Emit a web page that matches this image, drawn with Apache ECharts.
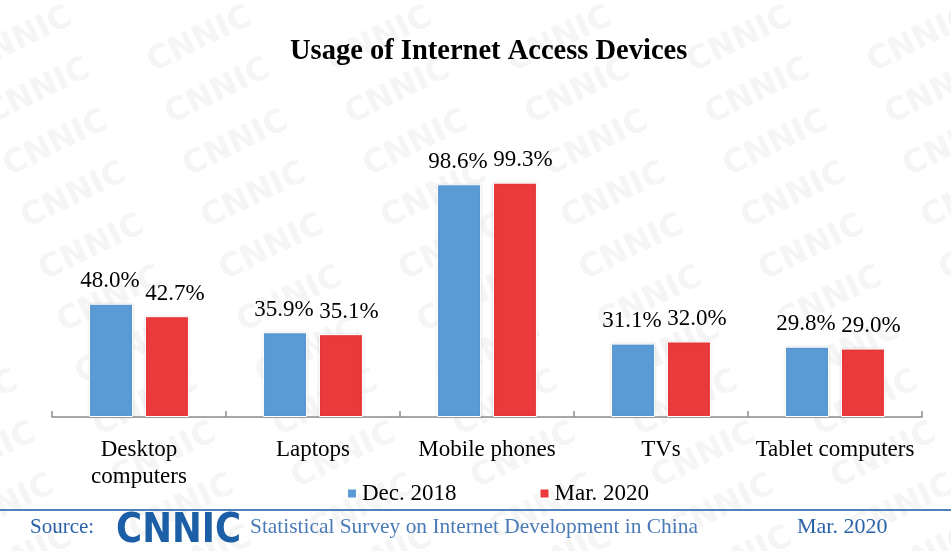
<!DOCTYPE html>
<html>
<head>
<meta charset="utf-8">
<script src="https://cdn.jsdelivr.net/npm/echarts@6/dist/echarts.min.js"></script>
<style>html,body{margin:0;padding:0;background:#fff;}#main{width:951px;height:551px;}</style>
</head>
<body>
<div id="main"></div>
<script>
const categories = ['Desktop\ncomputers', 'Laptops', 'Mobile phones', 'TVs', 'Tablet computers'];
const dec2018 = [48.0, 35.9, 98.6, 31.1, 29.8];
const mar2020 = [42.7, 35.1, 99.3, 32.0, 29.0];
const seriesNames = ['Dec. 2018', 'Mar. 2020'];

const serif = '"Liberation Serif", "Times New Roman", serif';
const chart = echarts.init(document.getElementById('main'));

// faint CNNIC watermark pattern
const marks = [];
for (let c = -2; c < 7; c++) {
  for (let r = 0; r < 11; r++) {
    marks.push({
      type: 'text', z: -10, silent: true,
      x: 20 + c * 180 + r * 18, y: 40 + r * 52,
      rotation: 0.45,
      style: { text: 'CNNIC', fill: '#f5f5f5', font: 'bold 32px "DejaVu Sans", sans-serif', textAlign: 'center', textVerticalAlign: 'middle' }
    });
  }
}

chart.setOption({
  backgroundColor: '#fff',
  animation: false,
  title: {
    text: 'Usage of Internet Access Devices',
    left: 285, top: 32,
    textStyle: { fontFamily: serif, fontWeight: 'bold', fontSize: 28.5, color: '#000' }
  },
  legend: {
    data: seriesNames,
    left: 341, top: 477,
    itemWidth: 10, itemHeight: 10, itemGap: 82,
    icon: 'rect',
    textStyle: { fontFamily: serif, fontSize: 23, color: '#000' }
  },
  grid: { left: 52, right: 29, top: 181, bottom: 134 },
  xAxis: {
    type: 'category',
    data: categories,
    axisLine: { lineStyle: { color: '#8c8c8c', width: 1.5 } },
    axisTick: { show: true, inside: true, length: 6, interval: 0, lineStyle: { color: '#8c8c8c', width: 1.5 } },
    axisLabel: { interval: 0, margin: 19, fontFamily: serif, fontSize: 23, color: '#000', lineHeight: 27 }
  },
  yAxis: { type: 'value', min: 0, max: 100, show: false, splitLine: { show: false } },
  series: [
    {
      name: seriesNames[0], type: 'bar', data: dec2018,
      barWidth: 44, barGap: '27%',
      itemStyle: { color: '#5b9bd5', borderColor: '#ffffff', borderWidth: 1, shadowColor: 'rgba(0,0,0,0.12)', shadowBlur: 3 },
      label: { show: true, position: 'top', distance: 11, offset: [-1, 0], fontFamily: serif, fontSize: 23, color: '#000', formatter: p => p.value.toFixed(1) + '%' }
    },
    {
      name: seriesNames[1], type: 'bar', data: mar2020,
      barWidth: 44,
      itemStyle: { color: '#ea3a3c', borderColor: '#ffffff', borderWidth: 1, shadowColor: 'rgba(0,0,0,0.12)', shadowBlur: 3 },
      label: { show: true, position: 'top', distance: 11, offset: [8, 0], fontFamily: serif, fontSize: 23, color: '#000', formatter: p => p.value.toFixed(1) + '%' }
    }
  ],
  graphic: marks.concat([
    { type: 'rect', shape: { x: 0, y: 509, width: 951, height: 2 }, style: { fill: '#4f81bd' }, silent: true },
    { type: 'text', x: 30, y: 527, style: { text: 'Source:', fill: '#2a62a8', font: '21px ' + serif, textVerticalAlign: 'middle' } },
    { type: 'text', x: 116, y: 532, scaleX: 0.89, style: { text: 'CNNIC', fill: '#1d5fa6', font: 'bold 40px "DejaVu Sans", sans-serif', textVerticalAlign: 'middle' } },
    { type: 'text', x: 250, y: 527, style: { text: 'Statistical Survey on Internet Development in China', fill: '#4a7bb7', font: '21.4px ' + serif, textVerticalAlign: 'middle' } },
    { type: 'text', x: 797, y: 527, style: { text: 'Mar. 2020', fill: '#2a62a8', font: '22px ' + serif, textVerticalAlign: 'middle' } }
  ])
});
</script>
</body>
</html>
